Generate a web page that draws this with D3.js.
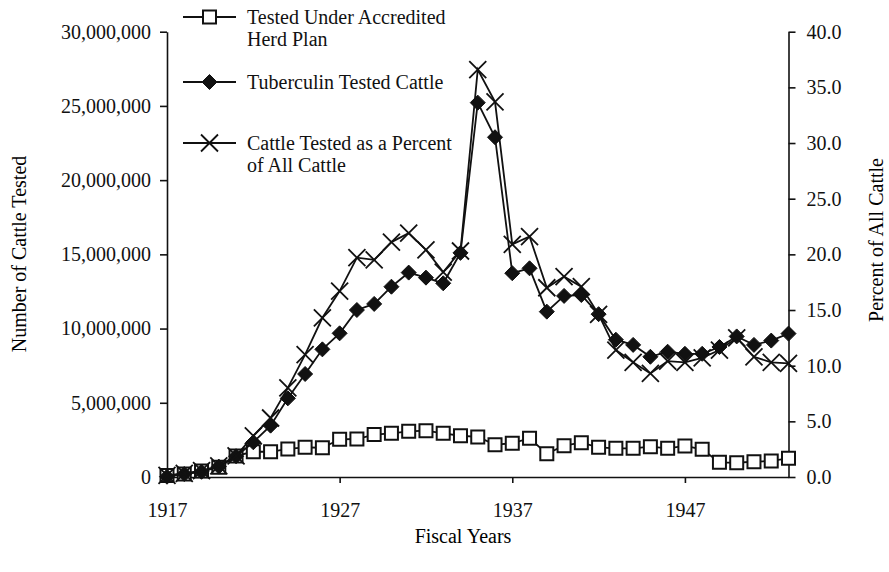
<!DOCTYPE html>
<html>
<head>
<meta charset="utf-8">
<script src="https://cdn.jsdelivr.net/npm/d3@7"></script>
<style>
  body { margin: 0; background: #fff; }
  svg { font-family: "Liberation Serif", "Times New Roman", serif; }
  .axis path, .axis line { stroke: #111; stroke-width: 1.6; }
  .axis text { font-family: "Liberation Serif", serif; font-size: 20px; fill: #111; }
</style>
</head>
<body>
<svg width="889" height="572"></svg>
<script>
// fiscal years 1917 - 1953
var years = d3.range(1917, 1954);

// cattle tested under accredited herd plan (head)
var accredited = [
  100000, 200000, 400000, 650000, 1420000, 1700000, 1700000, 1890000, 2000000, 1970000,
  2540000, 2560000, 2860000, 2940000, 3080000, 3120000, 2940000, 2780000, 2700000, 2180000,
  2270000, 2610000, 1570000, 2110000, 2310000, 2000000, 1930000, 1930000, 2040000, 1930000,
  2090000, 1870000, 990000, 960000, 1030000, 1080000, 1260000
];

// tuberculin tested cattle (head)
var tested = [
  20000, 200000, 350000, 700000, 1400000, 2340000, 3460000, 5300000, 6940000, 8600000,
  9680000, 11250000, 11660000, 12820000, 13770000, 13430000, 13050000, 15100000, 25220000, 22890000,
  13730000, 14060000, 11140000, 12200000, 12260000, 10970000, 9250000, 8900000, 8100000, 8440000,
  8300000, 8300000, 8760000, 9470000, 8900000, 9190000, 9660000
];

// cattle tested as a percent of all cattle
var percent = [
  0.15, 0.33, 0.57, 1.0, 1.9, 3.7, 5.3, 8.0, 11.0, 14.3,
  16.7, 19.7, 19.5, 21.1, 21.9, 20.4, 18.4, 20.3, 36.6, 33.7,
  20.9, 21.6, 17.0, 18.0, 17.1, 14.6, 11.4, 10.3, 9.3, 10.4,
  10.3, 10.7, 11.4, 12.5, 10.8, 10.3, 10.2
];

var leftTicks = [0, 5000000, 10000000, 15000000, 20000000, 25000000, 30000000];
var rightTicks = [0, 5, 10, 15, 20, 25, 30, 35, 40];
var yearTicks = [1917, 1927, 1937, 1947];

var legendLabels = [
  ["Tested Under Accredited", "Herd Plan"],
  ["Tuberculin Tested Cattle"],
  ["Cattle Tested as a Percent", "of All Cattle"]
];

var svg = d3.select("svg");
var plotLeft = 167, plotRight = 788.5, plotTop = 31.7, plotBottom = 477;

var x = d3.scaleLinear().domain([1917, 1953]).range([plotLeft, plotRight]);
var yL = d3.scaleLinear().domain([0, 30000000]).range([plotBottom, plotTop]);
var yR = d3.scaleLinear().domain([0, 40]).range([plotBottom, plotTop]);

// axes
svg.append("g").attr("class", "axis")
    .attr("transform", "translate(" + plotLeft + ",0)")
    .call(d3.axisLeft(yL).tickValues(leftTicks).tickFormat(d3.format(","))
      .tickSize(7).tickSizeOuter(0).tickPadding(9));

svg.append("g").attr("class", "axis")
    .attr("transform", "translate(" + plotRight + ",0)")
    .call(d3.axisRight(yR).tickValues(rightTicks).tickFormat(d3.format(".1f"))
      .tickSize(7).tickSizeOuter(0).tickPadding(11));

var xAxis = svg.append("g").attr("class", "axis")
    .attr("transform", "translate(0," + plotBottom + ")")
    .call(d3.axisBottom(x).tickValues(yearTicks).tickFormat(d3.format("d"))
      .tickSize(6).tickSizeOuter(0));
xAxis.selectAll("text").attr("y", 39.5).attr("dy", 0);

// axis titles
svg.append("text")
    .attr("transform", "translate(26,254) rotate(-90)")
    .attr("text-anchor", "middle")
    .style("font-size", "20px")
    .text("Number of Cattle Tested");

svg.append("text")
    .attr("transform", "translate(883,240) rotate(-90)")
    .attr("text-anchor", "middle")
    .style("font-size", "20px")
    .text("Percent of All Cattle");

svg.append("text")
    .attr("x", 463).attr("y", 543)
    .attr("text-anchor", "middle")
    .style("font-size", "20px")
    .text("Fiscal Years");

// marker shapes
function squarePath(s) { return "M" + (-s) + "," + (-s) + "H" + s + "V" + s + "H" + (-s) + "Z"; }
function diamondPath(s) { return "M0," + (-s) + "L" + s + ",0L0," + s + "L" + (-s) + ",0Z"; }
function crossPath(s) { return "M" + (-s) + "," + (-s) + "L" + s + "," + s + "M" + s + "," + (-s) + "L" + (-s) + "," + s; }

var series = [
  { values: accredited, y: yL, marker: function(g) {
      g.append("path").attr("d", squarePath(6.5)).attr("fill", "#fff").attr("stroke", "#111").attr("stroke-width", 2);
    } },
  { values: tested, y: yL, marker: function(g) {
      g.append("path").attr("d", diamondPath(7.5)).attr("fill", "#111").attr("stroke", "#111").attr("stroke-width", 1);
    } },
  { values: percent, y: yR, marker: function(g) {
      g.append("path").attr("d", crossPath(8.5)).attr("fill", "none").attr("stroke", "#111").attr("stroke-width", 1.8);
    } }
];

series.forEach(function(s) {
  var line = d3.line()
      .x(function(d, i) { return x(years[i]); })
      .y(function(d) { return s.y(d); });

  svg.append("path")
      .datum(s.values)
      .attr("fill", "none")
      .attr("stroke", "#111")
      .attr("stroke-width", 1.8)
      .attr("d", line);

  svg.append("g").selectAll("g")
    .data(s.values)
    .enter().append("g")
      .attr("transform", function(d, i) { return "translate(" + x(years[i]) + "," + s.y(d) + ")"; })
      .each(function() { s.marker(d3.select(this)); });
});

// legend
var legendY = [17, 82, 143];
series.forEach(function(s, i) {
  var g = svg.append("g").attr("transform", "translate(0," + legendY[i] + ")");
  g.append("line").attr("x1", 183).attr("x2", 236).attr("y1", 0).attr("y2", 0)
      .attr("stroke", "#111").attr("stroke-width", 1.8);
  s.marker(g.append("g").attr("transform", "translate(209.5,0)"));
  legendLabels[i].forEach(function(t, j) {
    g.append("text")
        .attr("x", 247).attr("y", j * 22)
        .attr("dy", "0.35em")
        .style("font-size", "20px")
        .attr("fill", "#111")
        .text(t);
  });
});
</script>
</body>
</html>
